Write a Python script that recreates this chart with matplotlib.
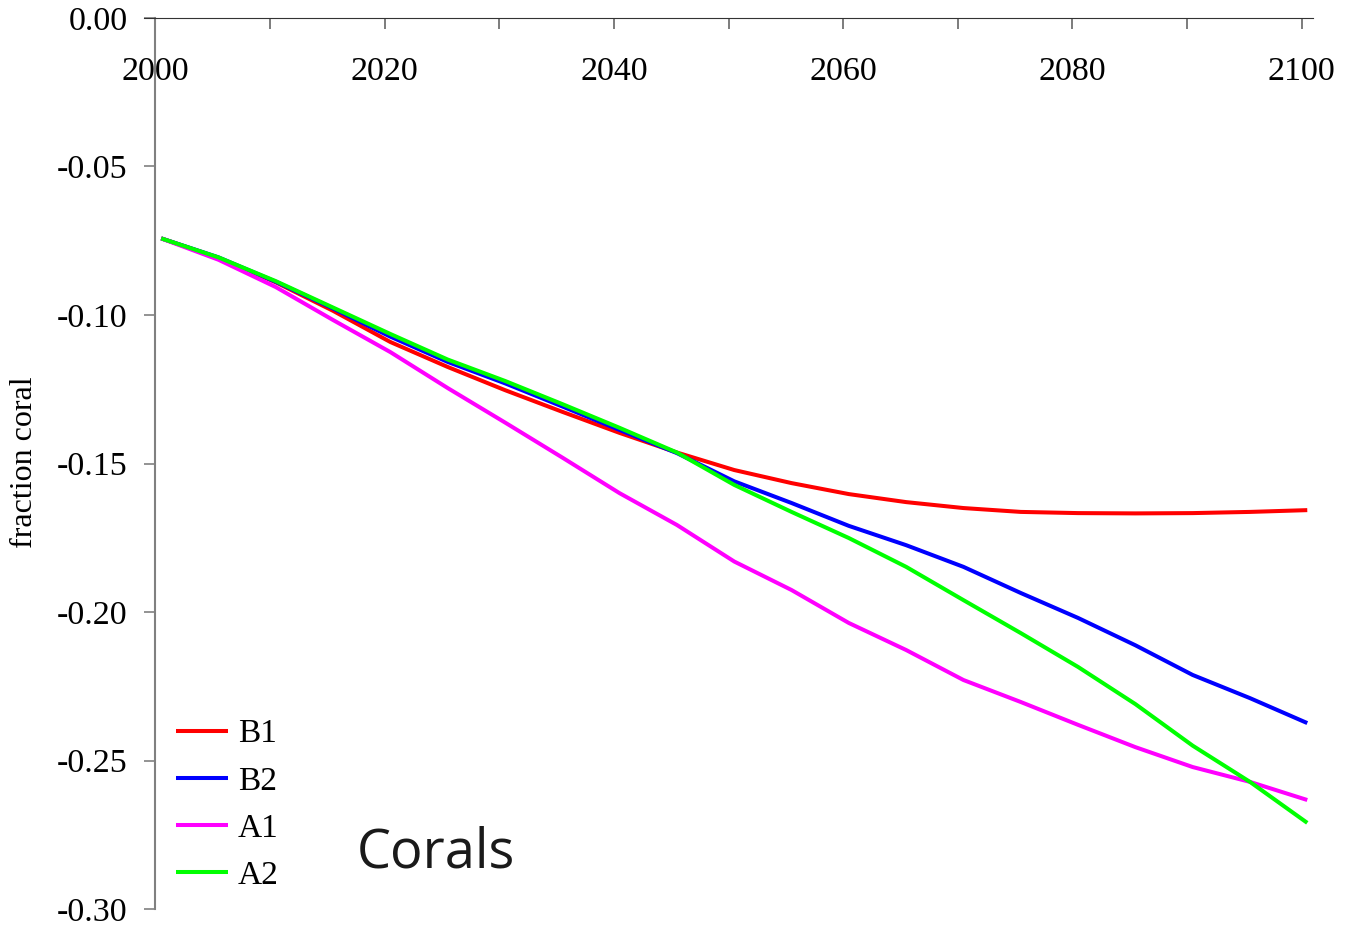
"""
Coral fraction change under four emission scenarios, 2000-2100.
"""
import numpy as np
import matplotlib
matplotlib.use("Agg")
import matplotlib.pyplot as plt
from matplotlib.ticker import MultipleLocator, FormatStrFormatter

# values, every 5 years
years = np.arange(2000, 2101, 5)
b1 = [-0.0742, -0.0808, -0.0890, -0.0986, -0.1091, -0.1175, -0.1253, -0.1326,
      -0.1397, -0.1463, -0.1522, -0.1566, -0.1603, -0.1630, -0.1650, -0.1663,
      -0.1667, -0.1668, -0.1667, -0.1663, -0.1657]
b2 = [-0.0742, -0.0806, -0.0888, -0.0978, -0.1073, -0.1158, -0.1230, -0.1308,
      -0.1387, -0.1465, -0.1560, -0.1633, -0.1710, -0.1775, -0.1848, -0.1936,
      -0.2020, -0.2112, -0.2212, -0.2290, -0.2374]
a1 = [-0.0742, -0.0814, -0.0906, -0.1017, -0.1125, -0.1246, -0.1362, -0.1480,
      -0.1600, -0.1707, -0.1830, -0.1926, -0.2037, -0.2128, -0.2229, -0.2303,
      -0.2380, -0.2455, -0.2522, -0.2572, -0.2633]
a2 = [-0.0742, -0.0806, -0.0886, -0.0975, -0.1064, -0.1150, -0.1222, -0.1300,
      -0.1380, -0.1463, -0.1572, -0.1663, -0.1751, -0.1848, -0.1960, -0.2071,
      -0.2185, -0.2310, -0.2450, -0.2572, -0.2710]

series = [("B1", b1, "#ff0000"), ("B2", b2, "#0000ff"),
          ("A1", a1, "#ff00ff"), ("A2", a2, "#00ff00")]

plt.rcParams["font.family"] = ["Liberation Serif", "DejaVu Serif"]

fig = plt.figure(figsize=(13.45, 9.3), dpi=100)
ax = fig.add_axes([144 / 1345, 1 - 909 / 930, (1313 - 144) / 1345, (909 - 18) / 930])

# annual means sit at mid-year
for name, vals, col in series:
    ax.plot(years + 0.5, vals, color=col, lw=2.9, label=name,
            solid_capstyle="butt", solid_joinstyle="round")

ax.set_xlim(1999, 2101)
ax.set_ylim(-0.30, 0.0)

# x axis drawn along y=0, y axis along x=2000
for s in ("top", "right"):
    ax.spines[s].set_visible(False)
ax.spines["bottom"].set_position(("data", 0))
ax.spines["bottom"].set_color("#333333")
ax.spines["left"].set_position(("data", 2000))
ax.spines["left"].set_bounds(-0.30, 0.0)
ax.spines["left"].set_color("#808080")
ax.spines["left"].set_linewidth(1.5)

ax.xaxis.set_major_locator(MultipleLocator(20))
ax.xaxis.set_minor_locator(MultipleLocator(10))
ax.xaxis.set_major_formatter(FormatStrFormatter("%d"))
ax.tick_params(axis="x", which="both", direction="out", length=8, width=1.2,
               color="#666666", labelsize=24.5, pad=20)
ax.yaxis.set_major_locator(MultipleLocator(0.05))
ax.yaxis.set_major_formatter(FormatStrFormatter("%.2f"))
ax.tick_params(axis="y", direction="out", length=8, width=1.2,
               color="#808080", labelsize=24.5, pad=12)

fig.text(25 / 1345, 1 - 462 / 930, "fraction coral", rotation=90,
         ha="center", va="center", fontsize=23)

leg = ax.legend(loc="upper left", bbox_to_anchor=(176 / 1345, 1 - 719 / 930),
                bbox_transform=fig.transFigure, frameon=False, fontsize=24,
                handlelength=1.55, handletextpad=0.3, labelspacing=0.5,
                borderpad=0, borderaxespad=0)

fig.text(357 / 1345, 1 - 867 / 930, "Corals", family="Open Sans",
         fontsize=39, color="#1a1a1a", ha="left", va="baseline")

fig.savefig("out.png", dpi=100)
